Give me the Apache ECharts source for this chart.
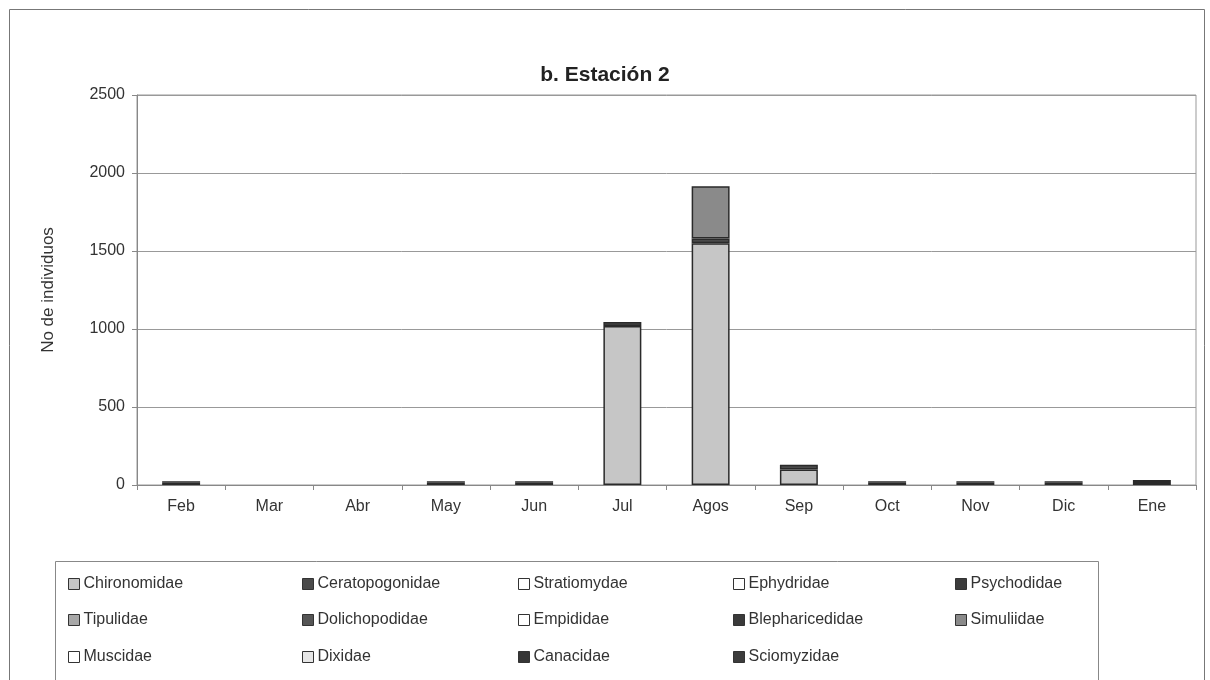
<!DOCTYPE html>
<html><head><meta charset="utf-8">
<script src="https://cdn.jsdelivr.net/npm/echarts@6/dist/echarts.min.js"></script>
<style>html,body{margin:0;padding:0;background:#fff}#c{width:1210px;height:680px}</style>
</head><body><div id="c"></div>
<script>
const months = ['Feb','Mar','Abr','May','Jun','Jul','Agos','Sep','Oct','Nov','Dic','Ene'];
const yTicks = [0, 500, 1000, 1500, 2000, 2500];
// values per family (stacking order as in Excel series order)
const Chironomidae    = [14, 0, 0, 14, 14, 1020, 1550, 100, 14, 14, 14, 20];
const Ceratopogonidae = [10, 0, 0, 10, 10, 25, 30, 30, 10, 10, 10, 12];
const Stratiomydae    = [0, 0, 0, 0, 0, 0, 0, 0, 0, 0, 0, 0];
const Ephydridae      = [0, 0, 0, 0, 0, 0, 0, 0, 0, 0, 0, 0];
const Psychodidae     = [0, 0, 0, 0, 0, 0, 0, 0, 0, 0, 0, 0];
const Tipulidae       = [0, 0, 0, 0, 0, 0, 0, 0, 0, 0, 0, 0];
const Dolichopodidae  = [0, 0, 0, 0, 0, 0, 0, 0, 0, 0, 0, 0];
const Empididae       = [0, 0, 0, 0, 0, 0, 0, 0, 0, 0, 0, 0];
const Blepharicedidae = [0, 0, 0, 0, 0, 0, 0, 0, 0, 0, 0, 0];
const Simuliidae      = [0, 0, 0, 0, 0, 0, 335, 0, 0, 0, 0, 0];
const Muscidae        = [0, 0, 0, 0, 0, 0, 0, 0, 0, 0, 0, 0];
const Dixidae         = [0, 0, 0, 0, 0, 0, 0, 0, 0, 0, 0, 0];
const Canacidae       = [0, 0, 0, 0, 0, 0, 0, 0, 0, 0, 0, 0];
const Sciomyzidae     = [0, 0, 0, 0, 0, 0, 0, 0, 0, 0, 0, 0];

const stackOrder = [
  ['Chironomidae', Chironomidae, '#c6c6c6'],
  ['Ceratopogonidae', Ceratopogonidae, '#4a4a4a'],
  ['Stratiomydae', Stratiomydae, '#ffffff'],
  ['Ephydridae', Ephydridae, '#ffffff'],
  ['Psychodidae', Psychodidae, '#3c3c3c'],
  ['Tipulidae', Tipulidae, '#a8a8a8'],
  ['Dolichopodidae', Dolichopodidae, '#555555'],
  ['Empididae', Empididae, '#ffffff'],
  ['Blepharicedidae', Blepharicedidae, '#3a3a3a'],
  ['Simuliidae', Simuliidae, '#8a8a8a'],
  ['Muscidae', Muscidae, '#ffffff'],
  ['Dixidae', Dixidae, '#e6e6e6'],
  ['Canacidae', Canacidae, '#363636'],
  ['Sciomyzidae', Sciomyzidae, '#3c3c3c']
];
// legend layout: 5 columns, 3 rows (row-major as in original)
const colX = [68, 302, 518, 733, 955];
const rowY = [576, 612, 649];

const font = 'Liberation Sans, Arial, sans-serif';
const chart = echarts.init(document.getElementById('c'));

const series = stackOrder.map(([name, data, color]) => ({
  name, type: 'bar', stack: 'total',
  data: data.map(v => (v === 0 ? '-' : v)),
  barWidth: '43%',
  itemStyle: { color, borderColor: '#2a2a2a', borderWidth: 1.5 },
  emphasis: { disabled: true }
}));

const legends = stackOrder.map(([name], i) => {
  const col = i % 5, row = Math.floor(i / 5);
  return {
    data: [name], left: colX[col], top: rowY[row],
    icon: 'rect', itemWidth: 11, itemHeight: 11, itemGap: 0,
    padding: 0,
    textStyle: { fontFamily: font, fontSize: 16, color: '#333', padding: [0, 0, 0, -1] },
    itemStyle: { borderColor: '#333', borderWidth: 1 },
    selectedMode: false
  };
});

chart.setOption({
  animation: false,
  backgroundColor: '#fff',
  title: {
    text: 'b. Estación 2', left: 'center', top: 60,
    textStyle: { fontFamily: font, fontSize: 21, fontWeight: 'bold', color: '#222' }
  },
  legend: legends,
  grid: { left: 137, right: 14, top: 95, bottom: 195, show: true, borderColor: '#999', borderWidth: 1, backgroundColor: 'transparent' },
  xAxis: {
    type: 'category', data: months,
    axisLine: { lineStyle: { color: '#888' } },
    axisTick: { show: true, alignWithLabel: false, length: 5, lineStyle: { color: '#888' } },
    axisLabel: { fontFamily: font, fontSize: 16, color: '#333', margin: 14 }
  },
  yAxis: {
    type: 'value', min: yTicks[0], max: yTicks[yTicks.length - 1], interval: yTicks[1] - yTicks[0],
    name: 'No de individuos', nameLocation: 'middle', nameGap: 80, nameRotate: 90,
    nameTextStyle: { fontFamily: font, fontSize: 17, color: '#333' },
    axisLine: { show: true, lineStyle: { color: '#888' } },
    axisTick: { show: true, length: 5, lineStyle: { color: '#888' } },
    axisLabel: { fontFamily: font, fontSize: 16, color: '#333', margin: 12, formatter: v => String(v) },
    splitLine: { lineStyle: { color: '#999', width: 1 } }
  },
  graphic: [
    { type: 'rect', shape: { x: 9.5, y: 9.5, width: 1195, height: 690 }, style: { fill: 'none', stroke: '#777', lineWidth: 1 }, silent: true, z: -1 },
    { type: 'rect', shape: { x: 55.5, y: 561.5, width: 1043, height: 130 }, style: { fill: 'none', stroke: '#888', lineWidth: 1 }, silent: true, z: -1 }
  ],
  series
});
</script></body></html>
